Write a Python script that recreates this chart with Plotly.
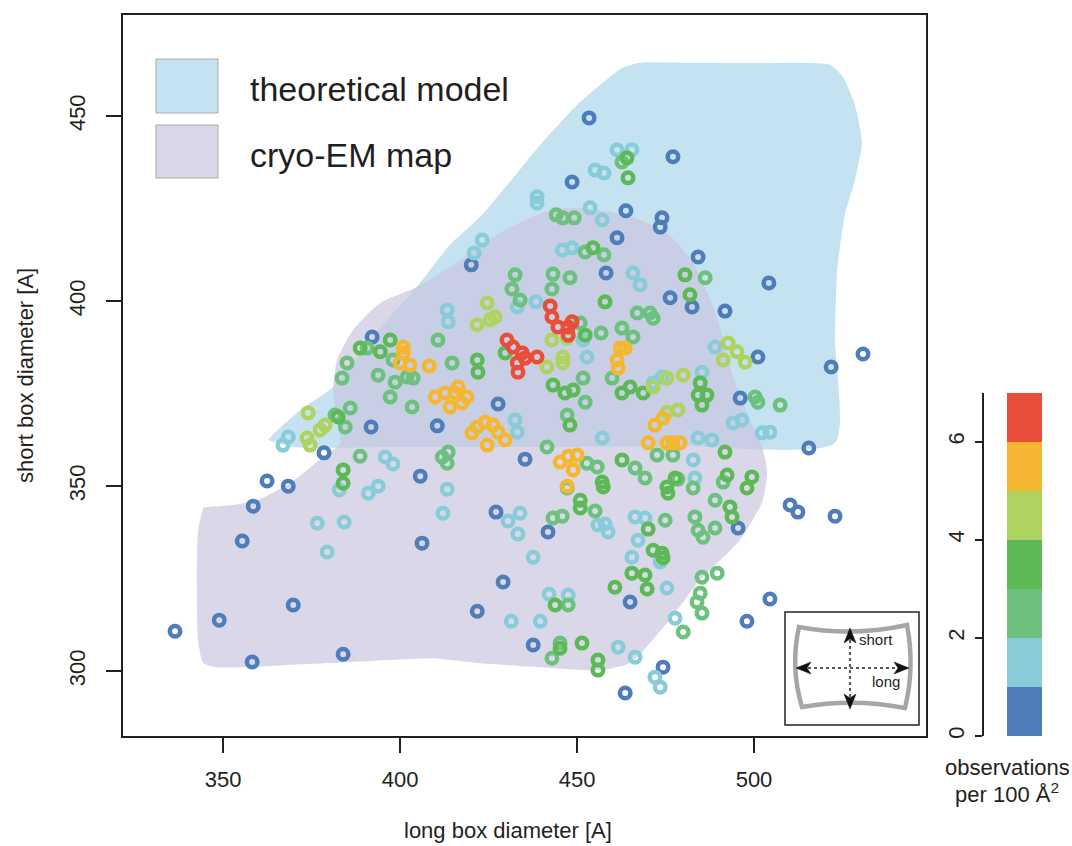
import plotly.graph_objects as go

# ---------------- data ----------------
# colour classes: observations per 100 A^2
bin_edges = [0, 1, 2, 3, 4, 5, 6, 7]
bin_colors = ['#4F7DB9', '#88CCD9', '#6CC17F', '#5DB956', '#AED35F', '#F5B732', '#E84E3A']
cbar_ticks = [0, 2, 4, 6]

x_ticks = [350, 400, 450, 500]
y_ticks = [300, 350, 400, 450]

# class 0 (0-1)
c0_x = [453.4, 477.1, 448.6, 463.8, 474.0, 473.5, 461.3, 420.1, 484.2, 458.2, 504.2, 476.3, 482.5, 491.8,
        392.1, 501.1, 521.8, 530.8, 496.1, 427.7, 410.5, 391.8, 515.5, 378.5, 435.3, 405.7, 362.4, 368.4,
        358.5, 510.2, 512.4, 427.1, 522.9, 495.5, 441.8, 355.4, 406.2, 429.1, 504.5, 465.0, 369.8, 421.8,
        348.9, 498.0, 336.4, 437.6, 383.9, 358.2, 474.3, 463.6]
c0_y = [449.5, 439.0, 432.2, 424.4, 422.5, 420.0, 417.1, 409.8, 411.9, 407.6, 404.9, 400.9, 398.4, 397.3,
        390.3, 384.9, 382.2, 385.7, 373.8, 372.2, 366.3, 366.0, 360.3, 359.0, 357.3, 352.7, 351.4, 350.0,
        344.6, 344.9, 343.0, 343.0, 341.9, 338.7, 337.6, 335.2, 334.6, 324.1, 319.5, 318.7, 317.9, 316.2,
        313.8, 313.5, 310.8, 307.1, 304.6, 302.5, 301.1, 294.1]

# class 1 (1-2)
c1_x = [461.3, 465.5, 455.1, 457.6, 438.7, 438.7, 453.7, 457.1, 423.2, 420.9,
        445.8, 448.6, 465.8, 467.8, 413.3, 413.6, 433.1, 438.4, 451.7, 452.8,
        471.5, 474.0, 485.3, 489.0, 494.1, 496.6, 502.3, 504.5, 484.2, 488.1,
        457.1, 482.8, 483.3, 432.5, 433.1, 368.4, 366.9, 395.8, 398.0, 382.8,
        391.0, 393.8, 413.3, 412.1, 430.5, 433.9, 433.3, 455.9, 376.6, 384.2,
        379.4, 437.6, 457.9, 458.8, 466.4, 469.2, 467.2, 465.5, 473.5, 475.4,
        442.1, 447.5, 431.4, 439.6, 477.7, 461.6, 466.4, 472.0, 473.5]
c1_y = [440.9, 440.9, 435.4, 434.6, 428.2, 426.5, 425.2, 421.9, 416.5, 413.0,
        413.8, 414.4, 407.6, 404.4, 397.6, 394.4, 398.4, 399.8, 389.5, 384.9,
        377.9, 379.5, 380.8, 387.6, 367.1, 367.9, 364.4, 364.6, 363.0, 362.5,
        363.0, 357.1, 352.2, 367.9, 364.6, 363.3, 361.1, 357.9, 356.0, 349.0,
        348.1, 350.0, 349.2, 342.7, 340.6, 342.7, 337.1, 339.5, 340.0, 340.3,
        332.2, 330.8, 339.8, 337.6, 341.7, 341.4, 335.4, 330.8, 329.5, 322.5,
        320.8, 320.6, 313.5, 313.5, 314.3, 306.5, 303.8, 298.4, 295.7]

# class 2 (2-3)
c2_x = [462.7, 444.1, 446.0, 449.2, 452.3, 457.6, 432.5, 431.6, 433.9, 443.2, 442.9, 448.0, 450.9, 456.8,
        486.2, 410.7, 462.7, 465.8, 467.0, 470.6, 471.5, 459.9, 451.7, 452.3, 500.3, 501.1, 507.4, 491.3,
        472.6, 477.1, 466.4, 469.2, 447.2, 441.5, 452.8, 455.7, 411.9, 413.6, 413.3, 403.4, 414.7, 402.0,
        403.7, 390.7, 398.0, 385.0, 383.6, 393.8, 398.6, 397.2, 381.6, 385.9, 384.5, 388.7, 447.2, 455.1,
        443.2, 445.8, 489.0, 482.8, 478.5, 474.9, 483.3, 484.2, 485.6, 489.0, 485.3, 489.6, 484.8, 483.9,
        485.3, 480.0, 447.5, 445.2, 442.9]
c2_y = [437.6, 423.3, 422.5, 422.5, 413.3, 412.5, 407.1, 403.3, 400.3, 407.3, 403.3, 406.3, 394.1, 391.4,
        406.3, 389.5, 392.7, 390.3, 396.8, 396.8, 395.4, 379.2, 379.2, 372.7, 374.1, 372.7, 371.9, 351.1,
        358.4, 358.4, 354.9, 352.2, 369.2, 360.6, 356.2, 355.2, 357.9, 359.2, 356.2, 371.4, 383.3, 379.5,
        379.2, 387.3, 384.1, 383.3, 379.2, 380.0, 378.1, 374.1, 369.2, 371.1, 366.0, 358.1, 349.5, 343.3,
        341.4, 341.9, 346.2, 349.5, 351.9, 340.8, 341.7, 338.1, 336.2, 338.7, 325.4, 326.5, 321.1, 318.7,
        315.7, 310.6, 317.9, 307.6, 303.5]

# class 3 (3-4)
c3_x = [464.1, 464.4, 454.5, 452.3, 457.9, 480.5, 481.9, 429.7, 443.2, 446.6, 448.9, 462.7, 465.0, 468.7,
        484.8, 484.2, 486.7, 485.3, 491.8, 492.4, 499.4, 498.0, 462.7, 477.7, 475.4, 475.7, 448.0, 457.1,
        457.4, 421.8, 422.0, 397.2, 388.7, 394.4, 382.5, 383.9, 383.9, 450.9, 450.9, 493.2, 493.8, 470.1,
        471.5, 474.0, 474.3, 465.5, 469.2, 469.8, 460.7, 443.8, 445.2, 451.4, 455.9, 455.9]
c3_y = [438.7, 433.3, 414.4, 390.8, 399.8, 407.1, 401.7, 386.0, 377.3, 375.2, 376.0, 375.2, 376.8, 375.2,
        377.9, 374.6, 374.6, 371.9, 359.2, 353.0, 352.5, 349.5, 357.1, 352.2, 349.8, 348.1, 366.5, 351.1,
        349.8, 384.1, 380.8, 389.5, 387.3, 386.3, 368.7, 354.4, 350.8, 346.2, 344.1, 344.4, 341.7, 338.4,
        332.7, 331.9, 330.6, 326.5, 326.0, 322.2, 322.7, 317.9, 306.2, 307.6, 303.0, 300.3]

# class 4 (4-5)
c4_x = [424.6, 421.8, 425.4, 426.8, 442.9, 447.2, 441.5, 446.0, 446.0, 475.4, 471.5, 480.0, 492.7, 495.2,
        497.5, 491.3, 475.4, 478.5, 374.0, 378.8, 377.4, 373.7, 374.6]
c4_y = [399.5, 393.6, 394.9, 395.7, 389.5, 390.0, 382.2, 383.3, 384.9, 379.2, 376.8, 380.0, 388.7, 386.3,
        383.5, 384.1, 370.0, 370.6, 369.8, 366.5, 365.2, 363.0, 361.1]

# class 5 (5-6)
c5_x = [462.2, 463.6, 461.3, 461.6, 400.9, 400.9, 400.0, 402.8, 408.2, 409.9, 412.7, 416.4, 418.9, 417.5,
        414.1, 415.5, 421.8, 424.0, 426.3, 427.7, 429.7, 424.6, 420.3, 472.0, 474.3, 470.1, 475.4, 477.1,
        479.1, 445.2, 447.5, 450.0, 448.9, 447.2]
c5_y = [387.3, 387.3, 384.1, 381.9, 387.6, 386.0, 383.3, 382.7, 382.5, 374.1, 375.2, 376.8, 374.1, 372.5,
        371.4, 375.2, 366.0, 367.3, 366.5, 364.6, 362.5, 361.1, 364.4, 366.5, 368.4, 361.7, 361.7, 361.7,
        361.7, 356.5, 358.1, 358.4, 354.4, 350.0]

# class 6 (6-7)
c6_x = [442.4, 442.9, 444.6, 447.5, 448.6, 447.5, 430.2, 431.9, 434.5, 433.1, 433.3, 435.3, 438.7]
c6_y = [398.7, 395.7, 393.0, 390.8, 394.4, 393.0, 389.5, 387.6, 386.0, 383.3, 380.8, 384.6, 384.9]

# outline of theoretical model region
theo_x = [362.7, 369.8, 400.0, 440.0, 480.0, 522.9, 522.9, 523.5, 525.7, 528.5, 530.5, 528.5, 525.1, 521.5,
          500.0, 480.0, 467.8, 462.7, 456.5, 450.0, 439.6, 429.1, 422.6, 414.1, 405.6, 393.8, 381.1, 371.8,
          364.7]
theo_y = [362.5, 360.6, 360.6, 360.6, 360.8, 361.7, 389.5, 408.4, 423.3, 432.7, 442.7, 453.0, 460.6, 463.8,
          464.3, 464.4, 464.4, 463.0, 458.4, 453.0, 442.2, 430.0, 422.7, 415.2, 404.9, 392.2, 376.8, 370.6,
          364.6]

# outline of cryo-EM map region
cryo_x = [344.4, 342.9, 342.9, 344.4, 347.7, 380.2, 409.3, 414.1, 421.8, 439.5, 456.5, 465.0, 475.4, 484.7,
          496.0, 502.5, 503.7, 501.7, 498.9, 494.1, 489.5, 482.8, 475.4, 464.1, 451.7, 442.4, 428.2, 414.1,
          404.8, 394.4, 386.7, 382.2, 381.1, 382.2, 383.1, 378.2, 368.9, 359.6, 352.8]
cryo_y = [344.3, 338.1, 308.4, 302.2, 301.1, 302.2, 303.5, 303.0, 302.2, 301.1, 300.3, 302.2, 313.0, 324.6,
          335.4, 346.2, 354.3, 362.4, 367.8, 379.5, 395.7, 410.3, 418.4, 423.2, 425.1, 424.6, 418.4, 409.2,
          403.8, 399.5, 392.2, 384.1, 376.8, 367.8, 361.6, 357.8, 350.8, 346.2, 344.9]

# ---------------- figure ----------------
W, H = 1072, 846
ML, MT, MB, MR = 123, 15, 110, 0
PW = W - ML - MR
PH = H - MT - MB


def px(p):
    return (p - ML) / PW


def py(p):
    return (H - MB - p) / PH


FONT = 'Liberation Sans, Arial, Helvetica, sans-serif'
TXT = '#231F20'

fig = go.Figure()

fig.add_trace(go.Scatter(x=theo_x, y=theo_y, mode='lines', fill='toself', fillcolor='#C5E2F0',
                         line=dict(width=0, shape='spline', smoothing=0.6), hoverinfo='skip',
                         showlegend=False))
fig.add_trace(go.Scatter(x=cryo_x, y=cryo_y, mode='lines', fill='toself', fillcolor='rgba(201,199,222,0.69)',
                         line=dict(width=0, shape='spline', smoothing=0.6), hoverinfo='skip',
                         showlegend=False))

classes = [(c0_x, c0_y), (c1_x, c1_y), (c2_x, c2_y), (c3_x, c3_y), (c4_x, c4_y), (c5_x, c5_y), (c6_x, c6_y)]
for (cx, cy), col in zip(classes, bin_colors):
    fig.add_trace(go.Scatter(x=cx, y=cy, mode='markers',
                             marker=dict(symbol='circle-open', size=10.5, color=col,
                                         line=dict(width=4.5, color=col)),
                             hoverinfo='skip', showlegend=False))

# colour key drawn as stacked bars
fig.add_trace(go.Bar(x=[0] * 7, y=[bin_edges[i + 1] - bin_edges[i] for i in range(7)], base=bin_edges[:7],
                     marker=dict(color=bin_colors, line=dict(width=0)), width=1,
                     xaxis='x2', yaxis='y2', hoverinfo='skip', showlegend=False))

axis_common = dict(showline=True, linecolor=TXT, linewidth=1.8, ticks='outside', ticklen=15, tickwidth=1.5,
                   tickcolor=TXT, showgrid=False, zeroline=False,
                   tickfont=dict(family=FONT, size=22, color=TXT))

fig.update_layout(
    width=W, height=H,
    margin=dict(l=ML, r=MR, t=MT, b=MB),
    paper_bgcolor='white', plot_bgcolor='white',
    xaxis=dict(range=[321.7, 548.6], domain=[0, px(926)], tickvals=x_ticks, mirror=True,
               ticklabelstandoff=8, **axis_common),
    yaxis=dict(range=[282.5, 477.3], domain=[0, 1], tickvals=y_ticks, mirror=True, tickangle=-90,
               ticklabelstandoff=12, **axis_common),
    xaxis2=dict(domain=[px(1007), px(1042)], range=[-0.5, 0.5], visible=False, anchor='y2'),
    yaxis2=dict(domain=[max(0.0, py(736)), py(392.5)], range=[0, 7], anchor='free', position=px(982.5),
                side='left', tickvals=cbar_ticks, showline=True, linecolor=TXT, linewidth=1.5,
                ticks='outside', ticklen=7, tickwidth=1.5, tickcolor=TXT, showgrid=False, zeroline=False,
                tickangle=-90, ticklabelstandoff=2,
                tickfont=dict(family=FONT, size=22, color=TXT)),
    bargap=0,
    font=dict(family=FONT, color=TXT),
)

shapes = []
# legend keys
shapes.append(dict(type='rect', xref='paper', yref='paper', x0=px(156), x1=px(218), y0=py(113), y1=py(59),
                   fillcolor='#C5E2F0', line=dict(color='#A9A9A9', width=1), layer='above'))
shapes.append(dict(type='rect', xref='paper', yref='paper', x0=px(156), x1=px(218), y0=py(178), y1=py(125),
                   fillcolor='#DAD8E8', line=dict(color='#A9A9A9', width=1), layer='above'))
# inset box
shapes.append(dict(type='rect', xref='paper', yref='paper', x0=px(785), x1=px(919), y0=py(725), y1=py(612),
                   fillcolor='white', line=dict(color=TXT, width=1.5), layer='above'))


def P(a, b):
    return f'{px(a):.5f},{py(b):.5f}'


box_path = ('M ' + P(799, 627) + ' Q ' + P(853, 637) + ' ' + P(907, 625) +
            ' Q ' + P(915, 667) + ' ' + P(905, 708) +
            ' Q ' + P(853, 698) + ' ' + P(802, 707) +
            ' Q ' + P(790, 667) + ' ' + P(799, 627) + ' Z')
shapes.append(dict(type='path', xref='paper', yref='paper', path=box_path,
                   line=dict(color='#A6A6A6', width=4.5), layer='above'))
# dotted axes of the inset
shapes.append(dict(type='line', xref='paper', yref='paper', x0=px(850), x1=px(850), y0=py(640), y1=py(697),
                   line=dict(color='#222222', width=1.5, dash='dot'), layer='above'))
shapes.append(dict(type='line', xref='paper', yref='paper', x0=px(808), x1=px(897), y0=py(668), y1=py(668),
                   line=dict(color='#222222', width=1.5, dash='dot'), layer='above'))
# arrow heads
heads = [
    [(850, 628), (844, 643), (850, 639), (856, 643)],
    [(850, 709), (844, 694), (850, 698), (856, 694)],
    [(796, 668), (811, 662), (807, 668), (811, 674)],
    [(909, 668), (894, 662), (898, 668), (894, 674)],
]
for h in heads:
    path = 'M ' + ' L '.join(P(a, b) for a, b in h) + ' Z'
    shapes.append(dict(type='path', xref='paper', yref='paper', path=path, fillcolor='#111111',
                       line=dict(color='#111111', width=0.5), layer='above'))
fig.update_layout(shapes=shapes)

ann = []
ann.append(dict(x=px(248), y=py(89), xref='paper', yref='paper', text='theoretical model', showarrow=False,
                xanchor='left', yanchor='middle', font=dict(size=34, family=FONT, color=TXT)))
ann.append(dict(x=px(248), y=py(155), xref='paper', yref='paper', text='cryo-EM map', showarrow=False,
                xanchor='left', yanchor='middle', font=dict(size=34, family=FONT, color=TXT)))
ann.append(dict(x=px(876), y=py(639), xref='paper', yref='paper', text='short', showarrow=False,
                xanchor='center', yanchor='middle', font=dict(size=15, family=FONT, color=TXT)))
ann.append(dict(x=px(886), y=py(681), xref='paper', yref='paper', text='long', showarrow=False,
                xanchor='center', yanchor='middle', font=dict(size=15, family=FONT, color=TXT)))
ann.append(dict(x=px(508), y=py(830), xref='paper', yref='paper', text='long box diameter [A]',
                showarrow=False, xanchor='center', yanchor='middle', font=dict(size=22, family=FONT, color=TXT)))
ann.append(dict(x=px(25), y=py(376), xref='paper', yref='paper', text='short box diameter [A]',
                showarrow=False, textangle=-90, xanchor='center', yanchor='middle',
                font=dict(size=22, family=FONT, color=TXT)))
ann.append(dict(x=px(1007), y=py(767), xref='paper', yref='paper', text='observations',
                showarrow=False, xanchor='center', yanchor='middle', font=dict(size=22, family=FONT, color=TXT)))
ann.append(dict(x=px(1007), y=py(793), xref='paper', yref='paper', text='per 100 Å<sup>2</sup>',
                showarrow=False, xanchor='center', yanchor='middle', font=dict(size=22, family=FONT, color=TXT)))
fig.update_layout(annotations=ann)

fig.write_html('out.html')
